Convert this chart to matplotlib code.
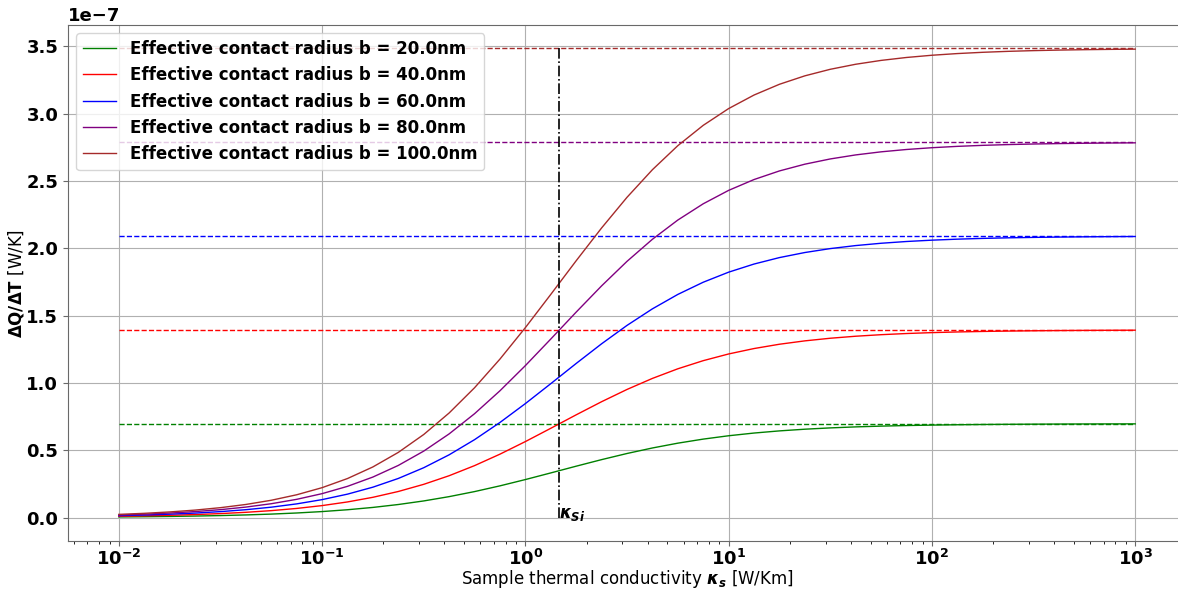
import numpy as np
import matplotlib
matplotlib.use("Agg")
import matplotlib.pyplot as plt

# sample thermal conductivity [W/Km], 8 points per decade
kappa = [0.01, 0.013335, 0.017783, 0.023714, 0.031623, 0.04217, 0.056234, 0.074989,
         0.1, 0.13335, 0.17783, 0.23714, 0.31623, 0.4217, 0.56234, 0.74989,
         1.0, 1.3335, 1.7783, 2.3714, 3.1623, 4.217, 5.6234, 7.4989,
         10.0, 13.335, 17.783, 23.714, 31.623, 42.17, 56.234, 74.989,
         100.0, 133.35, 177.83, 237.14, 316.23, 421.7, 562.34, 749.89, 1000.0]

# conductance dQ/dT in units of 1e-7 W/K
g_20 = [0.00471, 0.00627, 0.00833, 0.01107, 0.01468, 0.01944, 0.02568, 0.03383,
        0.04439, 0.05797, 0.07522, 0.09682, 0.12340, 0.15538, 0.19286, 0.23545,
        0.28219, 0.33153, 0.38158, 0.43028, 0.47582, 0.51684, 0.55256, 0.58276,
        0.60767, 0.62779, 0.64378, 0.65632, 0.66604, 0.67352, 0.67924, 0.68360,
        0.68690, 0.68940, 0.69129, 0.69271, 0.69377, 0.69458, 0.69518, 0.69564, 0.69598]
g_40 = [0.00942, 0.01253, 0.01666, 0.02213, 0.02936, 0.03888, 0.05136, 0.06766,
        0.08879, 0.11594, 0.15044, 0.19364, 0.24679, 0.31075, 0.38571, 0.47090,
        0.56437, 0.66306, 0.76316, 0.86055, 0.95163, 1.03367, 1.10511, 1.16552,
        1.21534, 1.25559, 1.28757, 1.31263, 1.33208, 1.34704, 1.35849, 1.36720,
        1.37381, 1.37880, 1.38257, 1.38541, 1.38755, 1.38916, 1.39037, 1.39127, 1.39195]
g_60 = [0.01413, 0.01880, 0.02499, 0.03320, 0.04403, 0.05831, 0.07704, 0.10149,
        0.13318, 0.17391, 0.22566, 0.29046, 0.37019, 0.46613, 0.57857, 0.70635,
        0.84656, 0.99459, 1.14474, 1.29083, 1.42745, 1.55051, 1.65767, 1.74828,
        1.82302, 1.88338, 1.93135, 1.96895, 1.99812, 2.02056, 2.03773, 2.05080,
        2.06071, 2.06820, 2.07386, 2.07812, 2.08132, 2.08374, 2.08555, 2.08691, 2.08793]
g_80 = [0.01884, 0.02506, 0.03332, 0.04426, 0.05871, 0.07775, 0.10272, 0.13532,
        0.17758, 0.23188, 0.30088, 0.38728, 0.49358, 0.62150, 0.77143, 0.94180,
        1.12874, 1.32613, 1.52632, 1.72111, 1.90326, 2.06735, 2.21023, 2.33105,
        2.43069, 2.51118, 2.57513, 2.62526, 2.66416, 2.69409, 2.71698, 2.73440,
        2.74761, 2.75760, 2.76514, 2.77082, 2.77510, 2.77831, 2.78073, 2.78255, 2.78391]
g_100 = [0.02355, 0.03133, 0.04166, 0.05533, 0.07339, 0.09719, 0.12840, 0.16915,
         0.22197, 0.28985, 0.37609, 0.48410, 0.61698, 0.77688, 0.96429, 1.17725,
         1.41093, 1.65766, 1.90790, 2.15138, 2.37908, 2.58418, 2.76279, 2.91381,
         3.03836, 3.13897, 3.21891, 3.28158, 3.33020, 3.36761, 3.39622, 3.41800,
         3.43451, 3.44700, 3.45643, 3.46353, 3.46888, 3.47289, 3.47591, 3.47818, 3.47988]

radii = [20.0, 40.0, 60.0, 80.0, 100.0]
g_sat = [0.697, 1.394, 2.091, 2.788, 3.485]   # tip-limited conductance, 1e-7 W/K
curves = [g_20, g_40, g_60, g_80, g_100]
colors = ["green", "red", "blue", "purple", "brown"]
kappa_si = 1.47

fig = plt.figure(figsize=(11.78, 5.89), dpi=100)
ax = fig.add_axes([68 / 1178, 1 - 541 / 589, 1118 / 1178, 516 / 589])

for b, g, gs, c in zip(radii, curves, g_sat, colors):
    ax.plot(kappa, np.array(g) * 1e-7, color=c, lw=1.0,
            label=f"Effective contact radius b = {b}nm")
    ax.hlines(gs * 1e-7, kappa[0], kappa[-1], colors=c, linestyles="--", lw=1.0)

ax.vlines(kappa_si, 0, max(g_sat) * 1e-7, colors="black", linestyles="-.", lw=1.2)
ax.text(kappa_si, 0, r"$\mathbfit{\kappa_{Si}}$", fontsize=12, ha="left", va="baseline")

ax.set_xscale("log")
ax.set_xlabel(r"Sample thermal conductivity $\mathbfit{\kappa_s}$ [W/Km]", fontsize=12,
              labelpad=-1)
ax.set_ylabel(r"$\mathbf{\Delta Q/\Delta T}$ [W/K]", fontsize=12, labelpad=0)
ax.tick_params(labelsize=13, color="dimgray")
ax.tick_params(axis="x", pad=2.5)
for lab in ax.get_xticklabels() + ax.get_yticklabels():
    lab.set_fontweight("bold")
ax.yaxis.get_offset_text().set_fontsize(13)
ax.yaxis.get_offset_text().set_fontweight("bold")
for sp in ax.spines.values():
    sp.set_color("dimgray")
ax.grid(True, which="major", color="#b0b0b0", lw=0.8)
ax.legend(loc="upper left", prop={"size": 12, "weight": "bold"})

fig.savefig("out.png", dpi=100)
